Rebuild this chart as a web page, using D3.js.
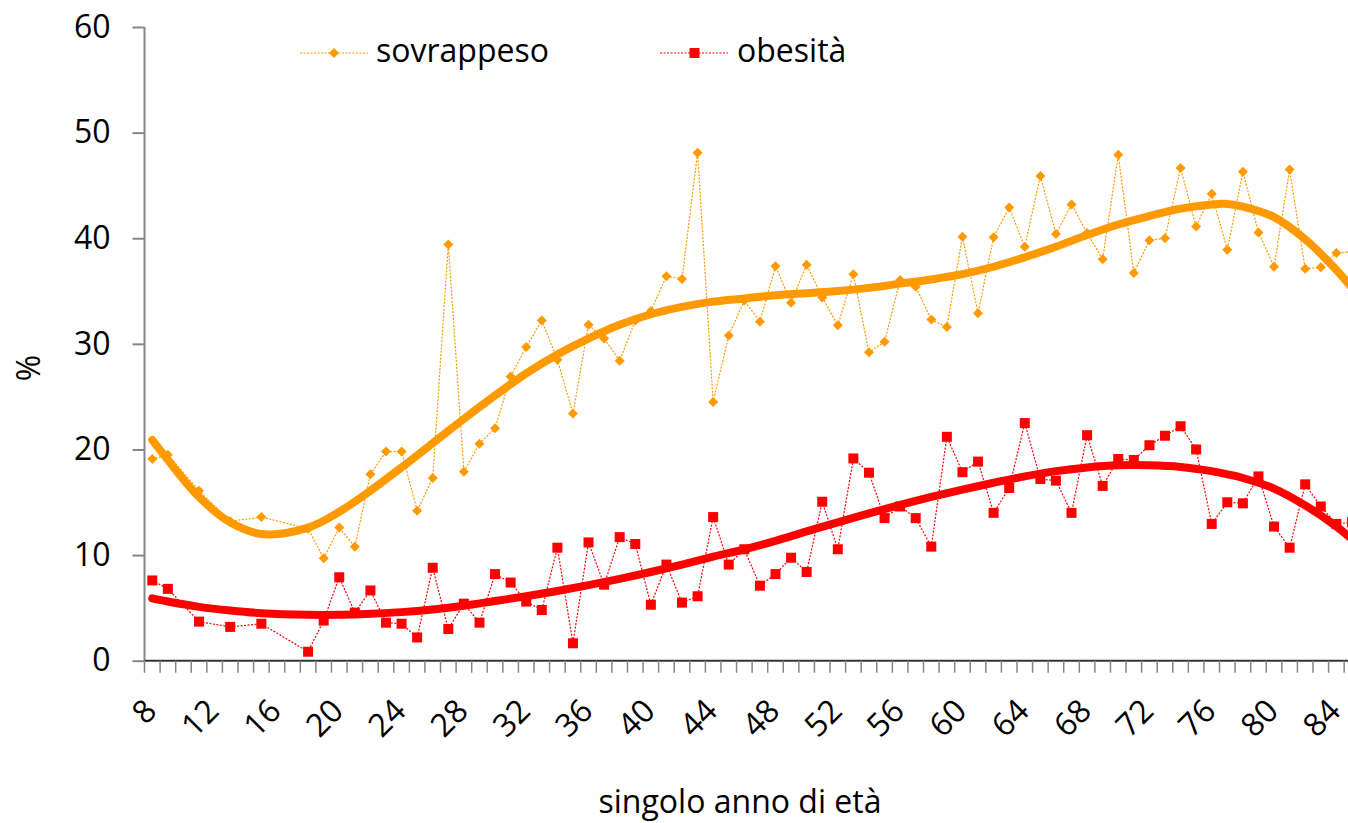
<!DOCTYPE html>
<html><head><meta charset="utf-8">
<script src="https://cdn.jsdelivr.net/npm/d3@7"></script>
<style>body{margin:0;background:#fff}svg{display:block;font-family:"Open Sans",sans-serif}</style>
</head><body><svg id="c" width="1348" height="823"></svg>
<script>
const ages = [8,9,11,13,15,18,19,20,21,22,23,24,25,26,27,28,29,30,31,32,33,34,35,36,37,38,39,40,41,42,43,44,45,46,47,48,49,50,51,52,53,54,55,56,57,58,59,60,61,62,63,64,65,66,67,68,69,70,71,72,73,74,75,76,77,78,79,80,81,82,83,84,85];
const sovrappeso = [19.1,19.5,16.1,13.2,13.6,12.5,9.7,12.6,10.8,17.65,19.8,19.8,14.2,17.3,39.4,17.9,20.55,22.0,26.9,29.7,32.2,28.5,23.4,31.8,30.5,28.4,32.2,33.1,36.4,36.15,48.1,24.5,30.8,34.1,32.1,37.35,33.9,37.5,34.4,31.75,36.6,29.2,30.2,36.05,35.4,32.3,31.6,40.15,32.9,40.1,42.9,39.2,45.9,40.4,43.2,40.5,38.0,47.9,36.7,39.8,40.0,46.65,41.1,44.2,38.9,46.3,40.55,37.3,46.5,37.1,37.25,38.6,38.7];
const obesita = [7.6,6.8,3.7,3.2,3.5,0.85,3.8,7.9,4.55,6.65,3.6,3.5,2.2,8.8,3.0,5.4,3.6,8.2,7.4,5.6,4.8,10.7,1.65,11.2,7.2,11.7,11.05,5.3,9.1,5.5,6.1,13.6,9.1,10.55,7.1,8.2,9.75,8.4,15.05,10.55,19.15,17.8,13.5,14.6,13.5,10.8,21.2,17.85,18.85,14.0,16.35,22.5,17.2,17.05,14.0,21.35,16.55,19.1,19.0,20.4,21.3,22.2,20.0,12.95,15.0,14.9,17.45,12.7,10.7,16.7,14.6,12.95,13.1];
// trendlines (polynomial trend)
const trendAges = [8,9,11,13,15,18,20,22,24,26,28,30,32,34,36,38,40,42,44,46,48,50,52,54,56,58,60,62,64,66,68,70,72,74,76,77,78,80,82,84,85];
const trendSovrappeso = [20.9,19.0,15.5,13.1,12.0,12.6,14.1,16.1,18.3,20.6,22.9,25.1,27.2,29.0,30.5,31.8,32.8,33.5,34.0,34.3,34.6,34.8,35.0,35.3,35.7,36.1,36.6,37.3,38.2,39.2,40.3,41.3,42.1,42.8,43.2,43.25,43.0,42.0,39.9,37.0,35.3];
const trendObesita = [5.9,5.6,5.1,4.75,4.5,4.35,4.35,4.45,4.6,4.85,5.2,5.65,6.1,6.6,7.15,7.75,8.4,9.1,9.85,10.55,11.35,12.25,13.1,13.95,14.75,15.5,16.2,16.85,17.45,17.95,18.3,18.5,18.5,18.35,17.95,17.65,17.3,16.3,14.7,12.7,11.5];
const xTickLabels = [8,12,16,20,24,28,32,36,40,44,48,52,56,60,64,68,72,76,80,84];
const yTickLabels = [0,10,20,30,40,50,60];
const seriesNames = ["sovrappeso","obesità"];

const svg = d3.select("#c");
const x = d3.scaleLinear().domain([7.5,85.5]).range([144.5,144.5+78*15.58]);
const y = d3.scaleLinear().domain([0,60]).range([660.7,27]);
const C_OV = "#FF9900", C_OB = "#FF0000";

// axes
const yAxis = d3.axisLeft(y).tickValues(yTickLabels).tickSize(12).tickPadding(22).tickFormat(d3.format("d"));
const gy = svg.append("g").attr("transform","translate(144.5,0)").call(yAxis);
gy.select(".domain").attr("stroke","#868686").attr("stroke-width",2).attr("d","M0,27V660.7");
gy.selectAll(".tick line").attr("stroke","#868686").attr("stroke-width",2);
gy.selectAll("text").attr("font-size",32).attr("fill","#000").attr("font-family","Open Sans");

const boundaries = d3.range(7.5,86,1);
const gx = svg.append("g").attr("transform","translate(0,660.7)");
gx.append("line").attr("x1",x(7.5)).attr("x2",x(85.5)).attr("stroke","#333").attr("stroke-width",2);
gx.selectAll("line.t").data(boundaries).join("line").attr("class","t")
  .attr("x1",d=>x(d)).attr("x2",d=>x(d)).attr("y1",0).attr("y2",12).attr("stroke","#868686").attr("stroke-width",1.5);
gx.selectAll("text").data(xTickLabels).join("text")
  .attr("transform",d=>`translate(${x(d)},46) rotate(-45)`)
  .attr("text-anchor","end").attr("dominant-baseline","middle")
  .attr("font-size",32).text(d=>d);

svg.append("text").attr("transform","translate(31,368) rotate(-90)").attr("text-anchor","middle")
  .attr("dominant-baseline","middle").attr("font-size",32).text("%");
svg.append("text").attr("x",740).attr("y",804).attr("text-anchor","middle")
  .attr("dominant-baseline","middle").attr("font-size",32).text("singolo anno di età");

// series lines
const line = d3.line().x(d=>x(d[0])).y(d=>y(d[1]));
const ovPts = ages.map((a,i)=>[a,sovrappeso[i]]);
const obPts = ages.map((a,i)=>[a,obesita[i]]);
svg.append("path").attr("d",line(ovPts)).attr("fill","none").attr("stroke",C_OV).attr("stroke-width",1.2).attr("stroke-dasharray","2,1.5");
svg.append("path").attr("d",line(obPts)).attr("fill","none").attr("stroke",C_OB).attr("stroke-width",1.2).attr("stroke-dasharray","2,1.5");
svg.append("g").selectAll("path").data(ovPts).join("path")
  .attr("d",d3.symbol().type(d3.symbolSquare).size(50)())
  .attr("transform",d=>`translate(${x(d[0])},${y(d[1])}) rotate(45)`).attr("fill",C_OV);
svg.append("g").selectAll("rect").data(obPts).join("rect")
  .attr("x",d=>x(d[0])-5).attr("y",d=>y(d[1])-5).attr("width",10).attr("height",10).attr("fill",C_OB);

// trend lines
const tline = d3.line().curve(d3.curveCatmullRom.alpha(0.5)).x(d=>x(d[0])).y(d=>y(d[1]));
svg.append("path").attr("d",tline(trendAges.map((a,i)=>[a,trendSovrappeso[i]]))).attr("fill","none").attr("stroke",C_OV).attr("stroke-width",8).attr("stroke-linecap","round");
svg.append("path").attr("d",tline(trendAges.map((a,i)=>[a,trendObesita[i]]))).attr("fill","none").attr("stroke",C_OB).attr("stroke-width",8).attr("stroke-linecap","round");

// legend
const lg = svg.append("g");
lg.append("line").attr("x1",300).attr("x2",368).attr("y1",53).attr("y2",53).attr("stroke",C_OV).attr("stroke-width",1.2).attr("stroke-dasharray","2,1.5");
lg.append("path").attr("d",d3.symbol().type(d3.symbolSquare).size(50)()).attr("transform","translate(334,53) rotate(45)").attr("fill",C_OV);
lg.append("text").attr("x",376).attr("y",53).attr("dominant-baseline","middle").attr("font-size",32).text(seriesNames[0]);
lg.append("line").attr("x1",660).attr("x2",728).attr("y1",53).attr("y2",53).attr("stroke",C_OB).attr("stroke-width",1.2).attr("stroke-dasharray","2,1.5");
lg.append("rect").attr("x",689.5).attr("y",48).attr("width",10).attr("height",10).attr("fill",C_OB);
lg.append("text").attr("x",737).attr("y",53).attr("dominant-baseline","middle").attr("font-size",32).text(seriesNames[1]);
</script></body></html>
